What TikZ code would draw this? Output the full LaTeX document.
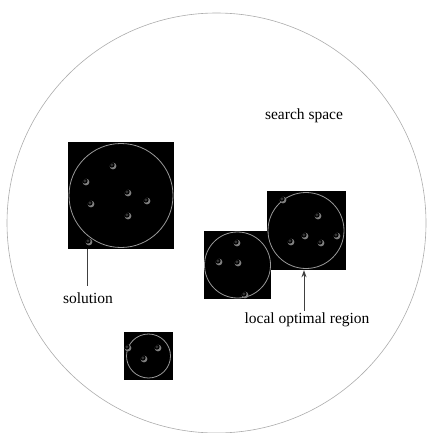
\documentclass[tikz,border=0pt]{standalone}
\usepackage{fontspec}
\setmainfont{Liberation Serif}
\newfontfamily\tnr{Liberation Serif}
\usetikzlibrary{arrows.meta}
\tikzset{
  sq/.style={fill=black, draw=none, inner sep=0pt},
  ring/.style={draw=black!40, line width=0.8pt},
  lbl/.style={font=\tnr\fontsize{15.5}{18}\selectfont, inner sep=2pt, text=black},
  conn/.style={draw=black!75, line width=0.9pt},
}
\newcommand\blob[2]{%
  \fill[black!50] (#1,#2) circle (3.4pt);
  \fill[black] (#1,#2) ++(-1.1,-1.1) circle (2.7pt);
  \fill[black!80] (#1,#2) ++(-1.1,-1.1) circle (1.6pt);
}
\begin{document}
\begin{tikzpicture}[x=1pt,y=-1pt]
\useasboundingbox (0,0) rectangle (426,433);
% search space
\draw[gray!65, line width=0.6pt] (216.5,223) circle [x radius=209.5pt, y radius=210pt];
\node[lbl] (ss) at (304,116) {search space};
% squares
\node[sq, minimum width=106pt, minimum height=107pt] (s1) at (121,195.5) {};
\node[sq, minimum width=67pt, minimum height=68pt] (s2) at (237.5,265) {};
\node[sq, minimum width=79pt, minimum height=79pt] (s3) at (306.5,230.5) {};
\node[sq, minimum width=49pt, minimum height=48pt] (s4) at (148.5,356) {};
% regions
\draw[ring] (121,195.5) circle (52pt);
\draw[ring] (237.5,265) circle (33pt);
\draw[ring] (306,230.5) circle (38pt);
\draw[ring] (148.5,356) circle (22pt);
% solutions
\blob{113}{166}\blob{86}{182}\blob{128}{193}\blob{147}{201}\blob{91}{204}\blob{128}{216}\blob{89}{242}
\blob{283}{200}\blob{318}{216}\blob{305}{236}\blob{291}{242}\blob{321}{243}\blob{337}{236}
\blob{237}{243}\blob{219}{262}\blob{238}{263}\blob{245}{295}
\blob{128}{348}\blob{158}{348}\blob{144}{359}
% labels
\node[lbl] (sol) at (88,298.5) {solution};
\node[lbl] (lor) at (307,320) {local optimal region};
% connectors
\draw[conn, shorten <=5pt] (sol.north -| 87,0) -- (87,0 |- s1.south);
\draw[conn, -{Stealth[length=7pt,width=5pt]}] ([xshift=-3pt]lor.north) -- ([xshift=-3pt]lor.north |- s3.south);
\end{tikzpicture}
\end{document}
